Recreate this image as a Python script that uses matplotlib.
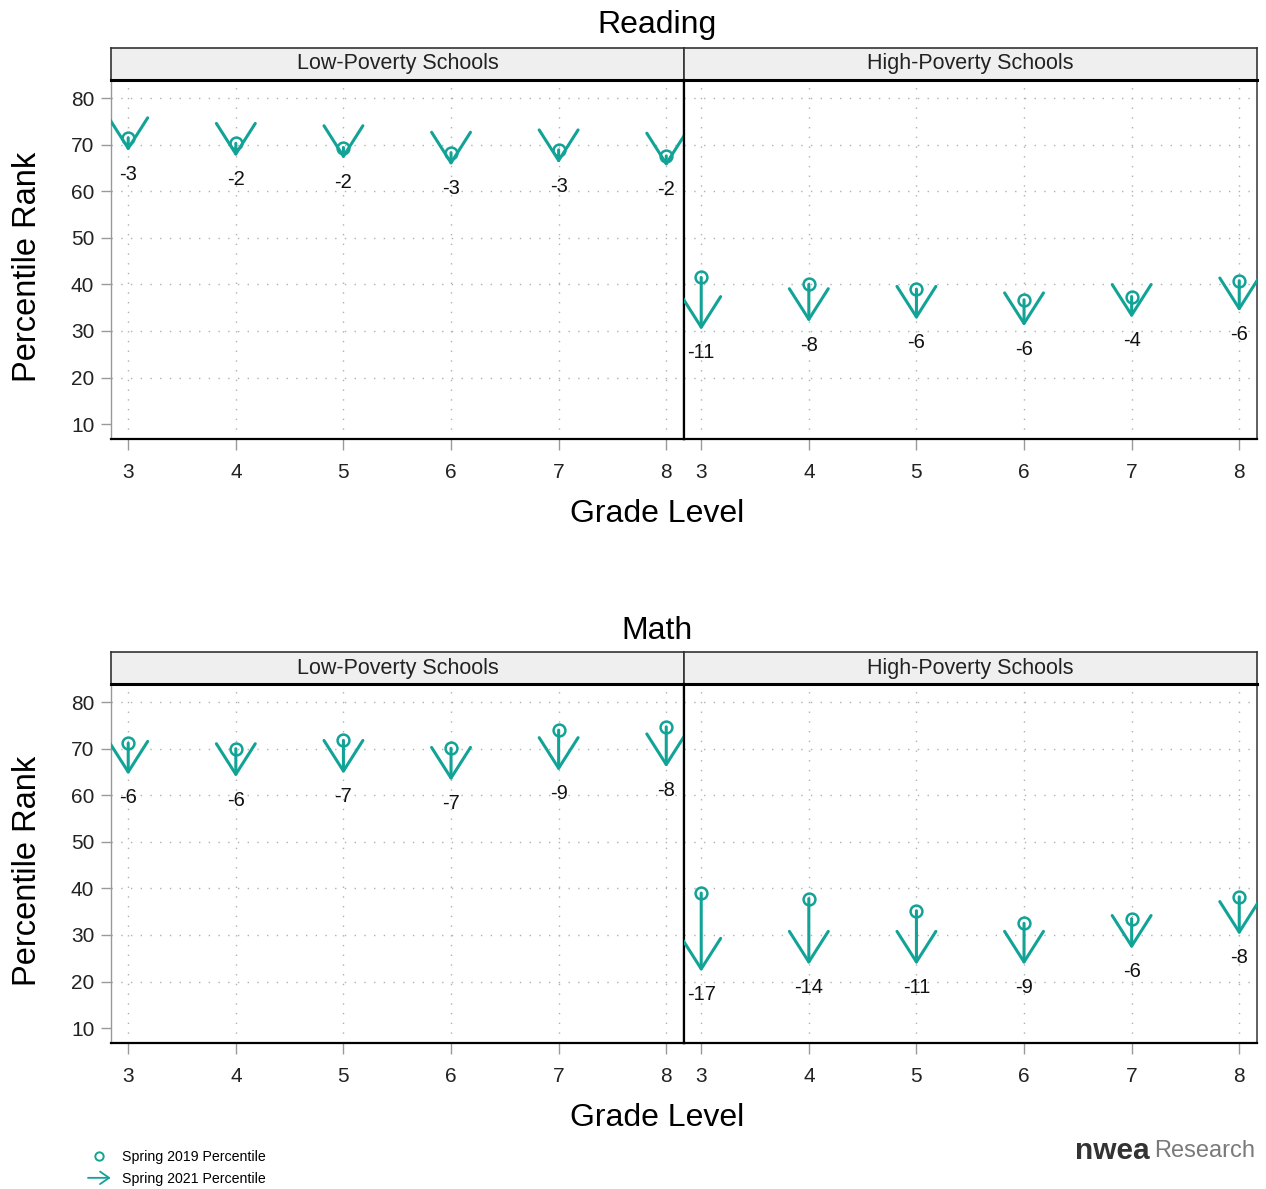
import numpy as np
import matplotlib.pyplot as plt
from matplotlib.patches import FancyArrowPatch
from matplotlib.lines import Line2D
from matplotlib.legend_handler import HandlerPatch

plt.rcParams['font.family'] = ['Liberation Sans', 'DejaVu Sans']

grades = [3, 4, 5, 6, 7, 8]
groups = ['Low-Poverty Schools', 'High-Poverty Schools']
yticks = [10, 20, 30, 40, 50, 60, 70, 80]

# Reading percentiles
reading_low_2019 = [71.5, 70.3, 69.4, 68.3, 68.9, 67.6]
reading_low_2021 = [68.6, 67.4, 66.9, 65.5, 66.0, 65.3]
reading_low_lab = ['-3', '-2', '-2', '-3', '-3', '-2']
reading_high_2019 = [41.5, 40.0, 39.0, 36.7, 37.4, 40.8]
reading_high_2021 = [30.2, 31.9, 32.4, 31.0, 32.8, 34.2]
reading_high_lab = ['-11', '-8', '-6', '-6', '-4', '-6']

# Math percentiles
math_low_2019 = [71.2, 70.0, 71.8, 70.1, 74.0, 74.7]
math_low_2021 = [64.4, 63.9, 64.6, 63.1, 65.2, 66.0]
math_low_lab = ['-6', '-6', '-7', '-7', '-9', '-8']
math_high_2019 = [39.0, 37.8, 35.2, 32.5, 33.5, 38.2]
math_high_2021 = [22.1, 23.6, 23.6, 23.6, 27.0, 30.0]
math_high_lab = ['-17', '-14', '-11', '-9', '-6', '-8']

W, H = 1266, 1189
teal = '#12a397'
fig = plt.figure(figsize=(W / 100, H / 100), dpi=100)


def box(l, t, r, b):
    return [l / W, 1 - b / H, (r - l) / W, (b - t) / H]


def fy(y):
    return 1 - y / H


def panel(l, r, top, v19, v21, labs, group, first):
    st = fig.add_axes(box(l, top, r, top + 32))
    st.set_facecolor('#efefef')
    st.set_xticks([])
    st.set_yticks([])
    for s in st.spines.values():
        s.set_color('#333333')
        s.set_linewidth(1.2)
    st.text(0.5, 0.5, group, ha='center', va='center', fontsize=15.5,
            color='#222222', transform=st.transAxes)

    ax = fig.add_axes(box(l, top + 32, r, top + 391))
    ax.set_xlim(2.84, 8.165)
    ax.set_ylim(6.8, 83.9)
    for y in yticks[1:]:
        ax.axhline(y, color='#b0b0b0', lw=1.0, ls=(0, (1, 6)), zorder=0)
    for g in grades:
        ax.axvline(g, color='#b0b0b0', lw=1.0, ls=(0, (1, 6)), zorder=0)

    for g, a, b, t in zip(grades, v19, v21, labs):
        ax.add_patch(FancyArrowPatch((g, a), (g, b),
                                     arrowstyle='->,head_length=2.2,head_width=1.4',
                                     mutation_scale=10, lw=2.2, color=teal,
                                     shrinkA=0, shrinkB=0, zorder=3))
        ax.annotate(t, (g, b), xytext=(0, -16.5), textcoords='offset points',
                    ha='center', va='center', fontsize=14.5, color='#111111')
    ax.plot(grades, v19, 'o', mfc='none', mec=teal, mew=1.8, ms=8.5, zorder=4)

    ax.set_xticks(grades)
    ax.set_yticks(yticks)
    ax.tick_params(axis='x', colors='#999999', length=8, width=1, pad=9,
                   labelsize=15, labelcolor='#222222')
    ax.tick_params(axis='y', colors='#999999', length=7, width=1, pad=5,
                   labelsize=15, labelcolor='#222222')
    ax.spines['top'].set_color('black')
    ax.spines['top'].set_linewidth(2.2)
    ax.spines['bottom'].set_color('black')
    ax.spines['bottom'].set_linewidth(1.6)
    if first:
        ax.spines['left'].set_color('#999999')
        ax.spines['left'].set_linewidth(1.0)
        ax.spines['right'].set_color('black')
        ax.spines['right'].set_linewidth(1.6)
    else:
        ax.tick_params(axis='y', left=False, labelleft=False)
        ax.spines['left'].set_color('black')
        ax.spines['left'].set_linewidth(1.6)
        ax.spines['right'].set_color('#444444')
        ax.spines['right'].set_linewidth(1.2)
    return ax


def row(top, title, low, high, tdy):
    panel(111, 684, top, *low, groups[0], True)
    panel(684, 1257, top, *high, groups[1], False)
    fig.text(657 / W, fy(top - 26 + tdy), title, ha='center', va='center', fontsize=23)
    fig.text(657 / W, fy(top + 466), 'Grade Level', ha='center', va='center', fontsize=23)
    fig.text(27 / W, fy(top + 219), 'Percentile Rank', ha='center', va='center',
             rotation=90, fontsize=23.5)


row(48, 'Reading',
    (reading_low_2019, reading_low_2021, reading_low_lab),
    (reading_high_2019, reading_high_2021, reading_high_lab), 3)
row(652, 'Math',
    (math_low_2019, math_low_2021, math_low_lab),
    (math_high_2019, math_high_2021, math_high_lab), 5)


class ArrowHandler(HandlerPatch):
    def create_artists(self, legend, orig_handle, xdescent, ydescent,
                       width, height, fontsize, trans):
        yc = height / 2 - ydescent
        a = FancyArrowPatch((-xdescent, yc), (width - xdescent, yc),
                            arrowstyle='->,head_length=0.65,head_width=0.45',
                            mutation_scale=10, lw=1.3, color=teal,
                            shrinkA=0, shrinkB=0, transform=trans)
        return [a]


circ = Line2D([], [], marker='o', ls='none', mfc='none', mec=teal, mew=1.4, ms=6)
arr = FancyArrowPatch((0, 0), (1, 0))
fig.legend(handles=[circ, arr], labels=['Spring 2019 Percentile', 'Spring 2021 Percentile'],
           handler_map={FancyArrowPatch: ArrowHandler()},
           loc='upper left', bbox_to_anchor=(88 / W, fy(1150)), frameon=False,
           fontsize=10.2, handlelength=1.6, handletextpad=0.8, labelspacing=0.55,
           borderaxespad=0, borderpad=0)

fig.text(1150 / W, fy(1151), 'nwea', ha='right', va='center', fontsize=21.5,
         fontweight='bold', color='#333333')
fig.text(1255 / W, fy(1151), 'Research', ha='right', va='center', fontsize=17,
         color='#7a7a7a')

plt.savefig('out.png', dpi=100)
